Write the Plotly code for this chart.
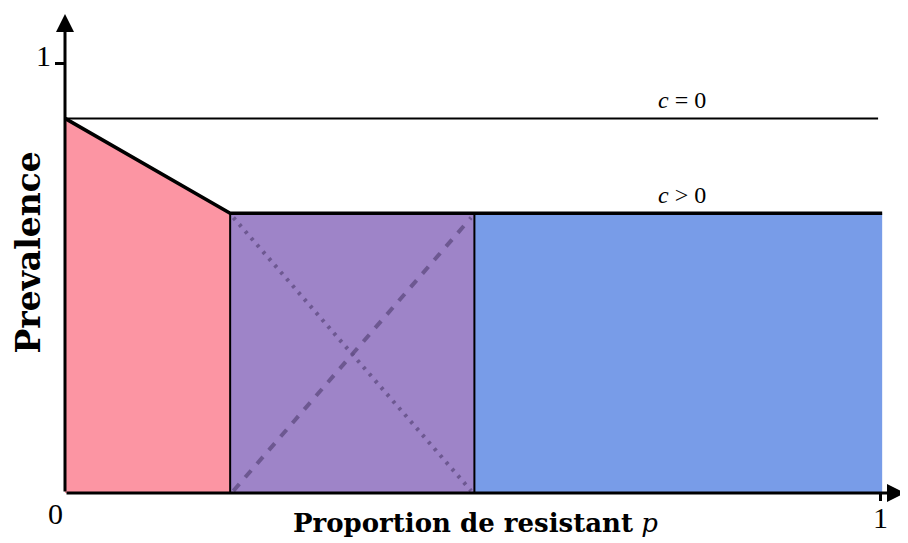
import plotly.graph_objects as go

# Data
p_breaks = [0.0, 0.2025, 0.502, 1.0]      # region boundaries in p
prev_c0 = 0.872                            # prevalence for c = 0
prev_c = 0.651                             # prevalence plateau for c > 0
x_ticks = [0, 1]
y_ticks = [0, 1]

FONT = "Liberation Serif"
TFONT = "DejaVu Serif"
fig = go.Figure()

p0, p1, p2, p3 = p_breaks
# red region
fig.add_trace(go.Scatter(x=[p0, p0, p1, p1, p0], y=[0, prev_c0, prev_c, 0, 0],
                         fill="toself", fillcolor="#FC95A3", line=dict(width=0),
                         mode="lines", hoverinfo="skip"))
# purple region
fig.add_trace(go.Scatter(x=[p1, p1, p2, p2, p1], y=[0, prev_c, prev_c, 0, 0],
                         fill="toself", fillcolor="#9E84C8", line=dict(width=0),
                         mode="lines", hoverinfo="skip"))
# blue region
fig.add_trace(go.Scatter(x=[p2, p2, p3 + 0.002, p3 + 0.002, p2], y=[0, prev_c, prev_c, 0, 0],
                         fill="toself", fillcolor="#789CE8", line=dict(width=0),
                         mode="lines", hoverinfo="skip"))
# dotted and dashed diagonals
fig.add_trace(go.Scatter(x=[p1 + 0.004, p2 - 0.004], y=[prev_c - 0.01, 0.005],
                         mode="lines", line=dict(color="rgba(100,80,135,0.85)", width=4, dash="3px,6px"),
                         hoverinfo="skip"))
fig.add_trace(go.Scatter(x=[p1 + 0.004, p2 - 0.004], y=[0.005, prev_c - 0.01],
                         mode="lines", line=dict(color="rgba(100,80,135,0.85)", width=4, dash="9px,9px"),
                         hoverinfo="skip"))
# vertical boundaries
for xb in [p1, p2]:
    fig.add_trace(go.Scatter(x=[xb, xb], y=[0, prev_c], mode="lines",
                             line=dict(color="black", width=2), hoverinfo="skip"))
# c = 0 line
fig.add_trace(go.Scatter(x=[p0, p3 - 0.003], y=[prev_c0, prev_c0], mode="lines",
                         line=dict(color="black", width=2), hoverinfo="skip"))
# c > 0 curve
fig.add_trace(go.Scatter(x=[p0, p1, p3 + 0.002], y=[prev_c0, prev_c, prev_c], mode="lines",
                         line=dict(color="black", width=3.5), hoverinfo="skip"))

# axes with arrows
fig.add_annotation(x=1.03, y=0, ax=0, ay=0, xref="x", yref="y", axref="x", ayref="y",
                   showarrow=True, arrowhead=2, arrowsize=1.2, arrowwidth=3, arrowcolor="black", text="")
fig.add_annotation(x=0, y=1.115, ax=0, ay=0, xref="x", yref="y", axref="x", ayref="y",
                   showarrow=True, arrowhead=2, arrowsize=1.2, arrowwidth=3, arrowcolor="black", text="")

# tick labels
fig.add_annotation(x=0, y=1, xref="x", yref="y", text=str(y_ticks[1]), showarrow=False,
                   xanchor="right", xshift=-12, yshift=8, font=dict(family=FONT, size=30, color="black"))
fig.add_annotation(x=0, y=0, xref="x", yref="y", text=str(x_ticks[0]), showarrow=False,
                   xanchor="right", yanchor="top", xshift=0, yshift=-2, font=dict(family=FONT, size=30, color="black"))
fig.add_annotation(x=1, y=0, xref="x", yref="y", text=str(x_ticks[1]), showarrow=False,
                   yanchor="top", yshift=-6, font=dict(family=FONT, size=30, color="black"))

# curve labels
fig.add_annotation(x=0.757, y=prev_c0, xref="x", yref="y", text="<i>c</i>&nbsp;=&nbsp;0", showarrow=False,
                   yanchor="bottom", yshift=3, font=dict(family=FONT, size=24, color="black"))
fig.add_annotation(x=0.757, y=prev_c, xref="x", yref="y", text="<i>c</i>&nbsp;&gt;&nbsp;0", showarrow=False,
                   yanchor="bottom", yshift=3, font=dict(family=FONT, size=24, color="black"))

# axis titles
fig.add_annotation(x=0.5, y=0, xref="paper", yref="y", text="<b>Proportion de resistant</b> <i>p</i>",
                   showarrow=False, yanchor="top", yshift=-13, xshift=-10,
                   font=dict(family=TFONT, size=26, color="black"))
fig.add_annotation(x=0, y=0.5, xref="paper", yref="paper", text="<b>Prevalence</b>",
                   showarrow=False, textangle=-90, xanchor="center", xshift=-37, yshift=1,
                   font=dict(family=TFONT, size=33, color="black"))

# tick marks via axes (no labels, no lines, no grid)
fig.update_xaxes(range=[0, 1.03], showgrid=False, zeroline=False, showline=False,
                 showticklabels=False, ticks="outside", tickvals=[x_ticks[1]],
                 ticklen=7, tickwidth=3, tickcolor="black", fixedrange=True)
fig.update_yaxes(range=[0, 1.115], showgrid=False, zeroline=False, showline=False,
                 showticklabels=False, ticks="outside", tickvals=[y_ticks[1]],
                 ticklen=9, tickwidth=3, tickcolor="black", fixedrange=True)
fig.update_layout(width=900, height=535, margin=dict(l=57, r=3, t=6, b=50),
                  plot_bgcolor="white", paper_bgcolor="white", showlegend=False)

fig.write_html("out.html")
